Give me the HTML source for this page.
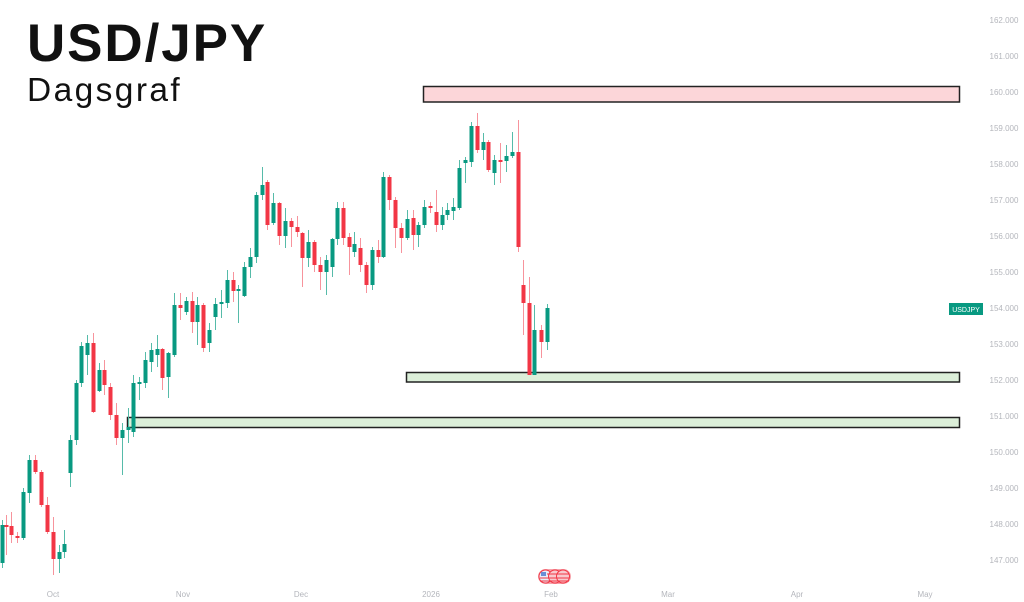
<!DOCTYPE html>
<html><head><meta charset="utf-8"><style>
html,body{margin:0;padding:0;background:#fff;}
body{width:1024px;height:602px;overflow:hidden;position:relative;font-family:"Liberation Sans",sans-serif;}
.t1{position:absolute;left:27px;top:14px;font-size:53px;font-weight:bold;color:#111;letter-spacing:1.9px;line-height:60px;}
.t2{position:absolute;left:27px;top:72px;font-size:33.5px;color:#111;letter-spacing:2.4px;line-height:38px;}
svg{position:absolute;left:0;top:0;}
</style></head><body>
<svg width="1024" height="602" viewBox="0 0 1024 602" xmlns="http://www.w3.org/2000/svg">
<g font-family="Liberation Sans, sans-serif" font-size="8" fill="#b4b6bc" text-anchor="middle">
<text x="1004" y="23">162.000</text><text x="1004" y="59">161.000</text><text x="1004" y="95">160.000</text><text x="1004" y="131">159.000</text>
<text x="1004" y="167">158.000</text><text x="1004" y="203">157.000</text><text x="1004" y="239">156.000</text><text x="1004" y="275">155.000</text>
<text x="1004" y="311">154.000</text><text x="1004" y="347">153.000</text><text x="1004" y="383">152.000</text><text x="1004" y="419">151.000</text>
<text x="1004" y="455">150.000</text><text x="1004" y="491">149.000</text><text x="1004" y="527">148.000</text><text x="1004" y="563">147.000</text>
<text x="53" y="597">Oct</text><text x="183" y="597">Nov</text><text x="301" y="597">Dec</text><text x="431" y="597">2026</text>
<text x="551" y="597">Feb</text><text x="668" y="597">Mar</text><text x="797" y="597">Apr</text><text x="925" y="597">May</text>
</g>
<rect x="949" y="303" width="34" height="12" fill="#089981"/>
<text x="966" y="312" font-family="Liberation Sans, sans-serif" font-size="7" fill="#fff" text-anchor="middle">USDJPY</text>
<rect x="423.5" y="86.5" width="536" height="15.5" fill="#fcd6d9" stroke="#222" stroke-width="1.5"/>
<rect x="406.5" y="372.5" width="553" height="9.5" fill="#dcefd9" stroke="#222" stroke-width="1.5"/>
<rect x="127.5" y="417.5" width="832" height="10" fill="#dcefd9" stroke="#222" stroke-width="1.5"/>
<rect x="538" y="569" width="33" height="15" rx="7.5" fill="#f6a3ab"/>
<circle cx="545.5" cy="576.5" r="6.5" fill="#e8eef8" stroke="#f23645"/>
<rect x="541" y="572" width="5" height="4" fill="#6a8ed6"/>
<circle cx="555" cy="576.5" r="6.5" fill="#f8c9ce" stroke="#f23645"/>
<circle cx="563" cy="576.5" r="6.5" fill="#f8c9ce" stroke="#f23645"/>
<path d="M540 578H569M540 581H569M547 574H569" stroke="#f23645" fill="none"/>
<path stroke="#56bba9" fill="none" d="M2.5 520V568M23.5 488V540M29.5 455V503M59.5 545V573M64.5 530V558M70.5 435V487M76.5 380V445M81.5 342V387M87.5 335V375M99.5 363V392M122.5 423V475M128.5 408V443M133.5 375V437M139.5 377V400M145.5 352V388M151.5 343V372M157.5 335V367M168.5 352V398M174.5 293V357M186.5 297V315M197.5 297V345M209.5 323V352M215.5 298V330M221.5 290V318M227.5 270V308M238.5 285V323M244.5 262V297M250.5 248V278M256.5 192V263M262.5 167V200M273.5 193V225M285.5 208V248M308.5 230V267M326.5 255V295M332.5 238V277M337.5 202V245M354.5 232V257M372.5 247V290M383.5 172V258M407.5 210V240M418.5 222V247M424.5 200V228M442.5 207V230M447.5 203V220M453.5 198V220M459.5 160V210M465.5 157V183M471.5 122V167M483.5 133V160M494.5 155V185M506.5 145V172M512.5 132V158M534.5 305V375M547.5 304V350"/>
<path fill="#089981" d="M0.5 525h4v38h-4zM21.5 492h4v46h-4zM27.5 460h4v33h-4zM57.5 552h4v7h-4zM62.5 544h4v8h-4zM68.5 440h4v33h-4zM74.5 383h4v57h-4zM79.5 346h4v37h-4zM85.5 343h4v12h-4zM97.5 370h4v21h-4zM120.5 430h4v8h-4zM126.5 427h4v3h-4zM131.5 383h4v49h-4zM137.5 382h4v2h-4zM143.5 360h4v23h-4zM149.5 350h4v12h-4zM155.5 349h4v6h-4zM166.5 353h4v24h-4zM172.5 305h4v50h-4zM184.5 301h4v11h-4zM195.5 305h4v17h-4zM207.5 330h4v13h-4zM213.5 304h4v13h-4zM219.5 302h4v2h-4zM225.5 280h4v23h-4zM236.5 289h4v2h-4zM242.5 267h4v29h-4zM248.5 257h4v10h-4zM254.5 195h4v62h-4zM260.5 185h4v10h-4zM271.5 203h4v20h-4zM283.5 221h4v15h-4zM306.5 242h4v16h-4zM324.5 260h4v12h-4zM330.5 239h4v28h-4zM335.5 208h4v31h-4zM352.5 244h4v8h-4zM370.5 250h4v35h-4zM381.5 177h4v80h-4zM405.5 219h4v19h-4zM416.5 225h4v10h-4zM422.5 207h4v18h-4zM440.5 215h4v10h-4zM445.5 210h4v5h-4zM451.5 207h4v4h-4zM457.5 168h4v40h-4zM463.5 160h4v3h-4zM469.5 126h4v36h-4zM481.5 142h4v8h-4zM492.5 160h4v13h-4zM504.5 156h4v5h-4zM510.5 152h4v4h-4zM532.5 330h4v45h-4zM545.5 308h4v34h-4z"/>
<path stroke="#f7939c" fill="none" d="M6.5 515V555M11.5 512V543M17.5 532V543M35.5 455V474M41.5 470V507M47.5 497V534M53.5 517V575M93.5 333V413M104.5 360V395M110.5 383V420M116.5 403V445M162.5 348V390M180.5 293V320M192.5 292V333M203.5 303V352M233.5 272V302M267.5 180V230M279.5 202V245M291.5 218V247M297.5 216V237M302.5 232V287M314.5 240V272M320.5 257V290M343.5 202V245M349.5 233V275M360.5 238V272M366.5 262V293M378.5 240V263M389.5 175V210M395.5 197V248M401.5 223V253M413.5 210V250M430.5 202V213M436.5 190V232M477.5 113V153M488.5 140V172M500.5 143V183M518.5 120V252M523.5 260V335M529.5 277V375M541.5 325V358"/>
<path fill="#f23645" d="M4.5 525h4v2h-4zM9.5 526h4v9h-4zM15.5 536h4v2h-4zM33.5 460h4v12h-4zM39.5 472h4v33h-4zM45.5 505h4v27h-4zM51.5 532h4v27h-4zM91.5 343h4v69h-4zM102.5 370h4v15h-4zM108.5 387h4v28h-4zM114.5 415h4v23h-4zM160.5 349h4v29h-4zM178.5 305h4v3h-4zM190.5 301h4v21h-4zM201.5 305h4v43h-4zM231.5 280h4v11h-4zM265.5 182h4v43h-4zM277.5 203h4v33h-4zM289.5 221h4v6h-4zM295.5 227h4v5h-4zM300.5 233h4v25h-4zM312.5 242h4v23h-4zM318.5 265h4v7h-4zM341.5 208h4v30h-4zM347.5 237h4v10h-4zM358.5 248h4v17h-4zM364.5 265h4v20h-4zM376.5 250h4v7h-4zM387.5 177h4v23h-4zM393.5 200h4v28h-4zM399.5 228h4v10h-4zM411.5 218h4v17h-4zM428.5 206h4v2h-4zM434.5 212h4v13h-4zM475.5 126h4v24h-4zM486.5 142h4v28h-4zM498.5 160h4v2h-4zM516.5 152h4v95h-4zM521.5 285h4v18h-4zM527.5 303h4v72h-4zM539.5 330h4v12h-4z"/>
</svg>
<div class="t1">USD/JPY</div>
<div class="t2">Dagsgraf</div>
</body></html>
